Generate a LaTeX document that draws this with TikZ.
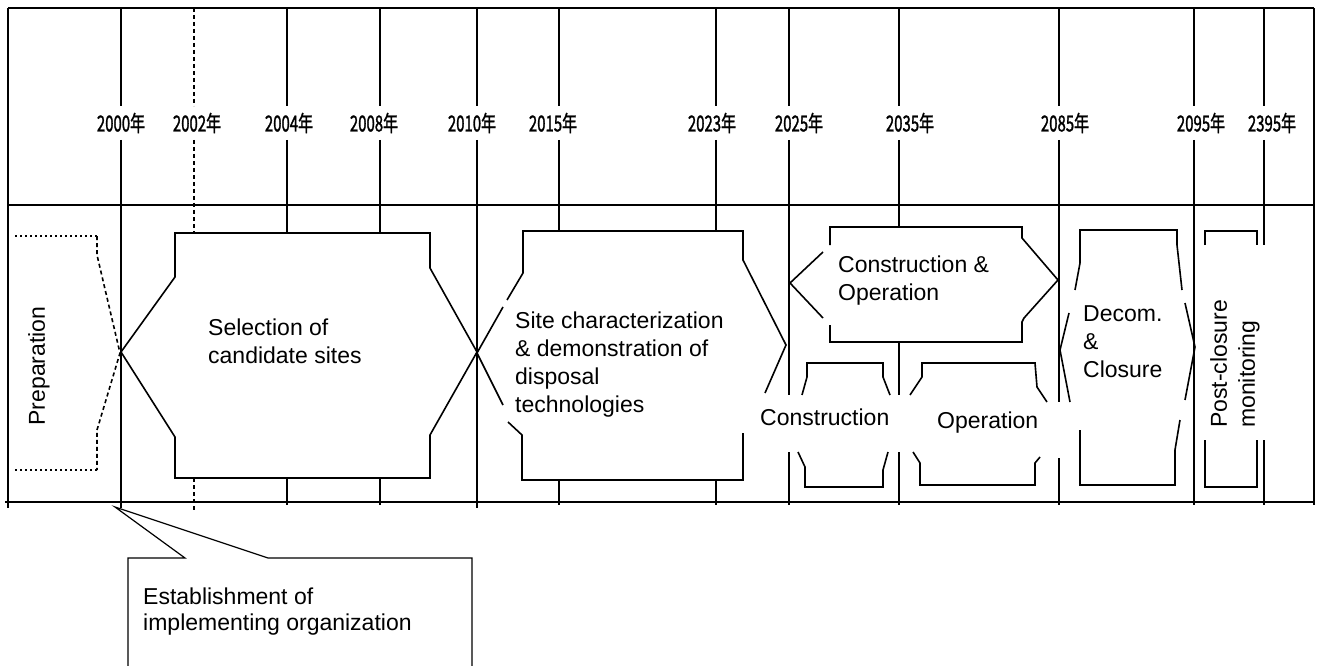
\documentclass[tikz,border=0pt]{standalone}
\usepackage{fontspec}
\newfontfamily\labfont{Liberation Sans}
\newfontfamily\yrfont[FakeStretch=0.68,FakeBold=1.2]{Noto Sans CJK JP}
\tikzset{
  ln/.style={line width=1.6pt, line join=miter},
  txt/.style={font=\labfont\fontsize{23}{28}\selectfont, align=left, inner sep=0pt, anchor=west},
  yr/.style={font=\yrfont\fontsize{22}{22}\selectfont, inner sep=0pt},
  dotln/.style={line width=2pt, dash pattern=on 1.5pt off 3.5pt},
  dashln/.style={line width=1.6pt, dash pattern=on 4pt off 3pt},
}
\begin{document}
\begin{tikzpicture}[x=1pt,y=-1pt]
\fill[white] (0,0) rectangle (1318,666);
\useasboundingbox (0,0) rectangle (1318,666);

% frame
\draw[ln] (8,8) -- (1314,8);
\draw[ln] (8,205) -- (1314,205);
\draw[ln] (5,502) -- (1314,502);
\draw[ln] (8,8) -- (8,508);
\draw[ln] (1314,8) -- (1314,505);

% year labels
\foreach \yy/\lx in {2000/121,2002/197,2004/289,2008/374,2010/472,2015/553,2023/712,2025/799,2035/910,2085/1065,2095/1201,2395/1272}
  \node[yr] (y\yy) at (\lx,123) {\yy 年};

% year lines, upper band
\foreach \x in {121,287,380,477,559,716,789,899,1059,1194,1264}
  \draw[ln] (\x,8) -- (\x,106) (\x,140) -- (\x,205);
\draw[dashln] (194,8) -- (194,106) (194,140) -- (194,233) (194,478) -- (194,510);

% year lines, lower band
\draw[ln] (121,205) -- (121,508);
\draw[ln] (287,205) -- (287,233) (287,478) -- (287,505);
\draw[ln] (380,205) -- (380,233) (380,478) -- (380,505);
\draw[ln] (477,205) -- (477,508);
\draw[ln] (559,205) -- (559,231) (559,480) -- (559,505);
\draw[ln] (716,205) -- (716,230) (716,480) -- (716,505);
\draw[ln] (789,205) -- (789,395) (789,452) -- (789,505);
\draw[ln] (899,205) -- (899,227) (899,342) -- (899,395) (899,452) -- (899,505);
\draw[ln] (1059,205) -- (1059,402) (1059,458) -- (1059,505);
\draw[ln] (1194,205) -- (1194,505);
\draw[ln] (1264,205) -- (1264,245) (1264,440) -- (1264,505);

% Preparation
\draw[dotln] (15,236) -- (97,236);
\draw[dotln] (15,470) -- (97,470);
\draw[dashln] (97,236) -- (97,255) -- (120,353) -- (97,430) -- (97,470);
\node[txt, anchor=center, rotate=90] (prep) at (39,366) {Preparation};

% Selection of candidate sites
\draw[ln] (175,233) -- (430,233) -- (430,268) -- (477,352) -- (430,435) -- (430,478)
  -- (175,478) -- (175,437) -- (121,352) -- (175,277) -- cycle;
\node[txt] (sel) at (208,341) {Selection of\\candidate sites};

% Site characterization
\draw[ln] (507,300) -- (523,273) -- (523,231) -- (743,231) -- (743,260) -- (786,345) -- (765,393);
\draw[ln] (743,433) -- (743,480) -- (522,480) -- (522,435) -- (508,422);
\draw[ln] (503,405) -- (477,353) -- (503,307);
\node[txt] (site) at (515,365) {Site characterization\\\& demonstration of\\disposal\\technologies};

% Construction & Operation
\draw[ln] (823,252) -- (790,283) -- (823,318);
\draw[ln] (830,245) -- (830,227) -- (1022,227) -- (1022,238) -- (1058,280) -- (1024,318)
  -- (1022,322) -- (1022,342) -- (830,342) -- (830,325);
\node[txt] (co) at (838,281) {Construction \&\\Operation};

% Construction
\draw[ln] (802,395) -- (807,377) -- (807,363) -- (883,363) -- (883,377) -- (890,395);
\draw[ln] (798,452) -- (805,467) -- (805,487) -- (883,487) -- (883,470) -- (888,452);
\node[txt] (cons) at (760,417) {Construction};

% Operation
\draw[ln] (910,395) -- (922,377) -- (922,363) -- (1035,363) -- (1037,387) -- (1047,402);
\draw[ln] (913,452) -- (920,463) -- (920,485) -- (1035,485) -- (1035,463) -- (1040,457);
\node[txt] (oper) at (937,423) {Operation};

% Decommissioning & Closure
\draw[ln] (1075,290) -- (1080,263) -- (1080,230) -- (1177,230) -- (1177,245) -- (1182,290);
\draw[ln] (1069,313) -- (1060,350) -- (1070,402);
\draw[ln] (1185,303) -- (1195,347) -- (1185,400);
\draw[ln] (1080,430) -- (1080,485) -- (1175,485) -- (1175,450) -- (1180,420);
\node[txt] (decom) at (1083,342) {Decom.\\\&\\Closure};

% Post-closure monitoring
\draw[ln] (1205,245) -- (1205,231) -- (1257,231) -- (1257,245);
\draw[ln] (1205,440) -- (1205,487) -- (1257,487) -- (1257,440);
\node[txt, rotate=90] (post) at (1235,428) {Post-closure\\monitoring};

% callout
\coordinate (tip) at (115,507);
\draw[line width=1.2pt] (128,666) -- (128,558) -- (185,558) -- (tip) -- (268,558) -- (472,558) -- (472,666);
\node[txt, font=\labfont\fontsize{23}{26}\selectfont] (est) at (143,612) {Establishment of\\implementing organization};
\end{tikzpicture}
\end{document}
